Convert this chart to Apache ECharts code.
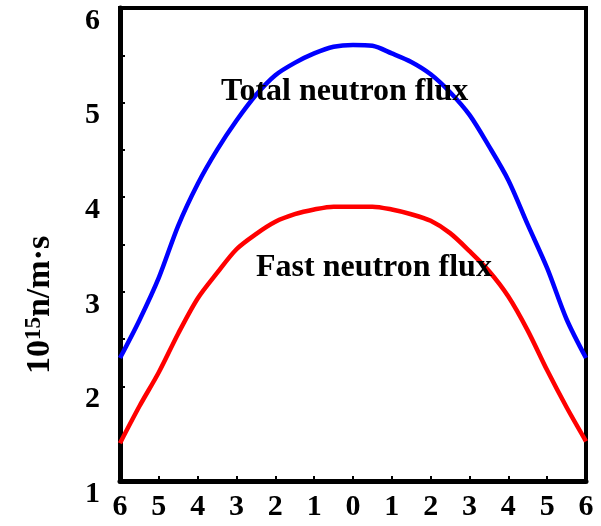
<!DOCTYPE html>
<html>
<head>
<meta charset="utf-8">
<script src="https://cdn.jsdelivr.net/npm/echarts@6/dist/echarts.min.js"></script>
<style>html,body{margin:0;padding:0;background:#fff}#c{width:601px;height:526px}</style>
</head>
<body>
<div id="c"></div>
<script>
// Position (x, symmetric about core centre)
const positions = [-6,-5.5,-5,-4.5,-4,-3.5,-3,-2.5,-2,-1.5,-1,-0.5,0,0.5,1,1.5,2,2.5,3,3.5,4,4.5,5,5.5,6];
// Total neutron flux (10^15 n/m·s)
const totalFlux = [2.30,2.70,3.15,3.70,4.14,4.50,4.81,5.08,5.29,5.42,5.52,5.59,5.61,5.60,5.52,5.43,5.30,5.11,4.87,4.54,4.18,3.71,3.25,2.71,2.30];
// Fast neutron flux (10^15 n/m·s)
const fastFlux = [1.40,1.79,2.15,2.56,2.93,3.20,3.45,3.61,3.74,3.82,3.87,3.90,3.90,3.90,3.87,3.82,3.75,3.62,3.43,3.22,2.95,2.59,2.17,1.78,1.42];
const seriesNames = ['Total neutron flux','Fast neutron flux'];
const yTicks = [1,2,3,4,5,6];

const FONT = '"Liberation Serif","Times New Roman",serif';
const chart = echarts.init(document.getElementById('c'));
chart.setOption({
  animation: false,
  backgroundColor: '#fff',
  grid: {left: 120, right: 15, top: 8, bottom: 45, show: true, borderColor: '#000', borderWidth: 4, backgroundColor: 'transparent'},
  xAxis: {
    type: 'value', min: -6, max: 6, interval: 1,
    axisLine: {show: true, onZero: false, lineStyle: {color: '#000', width: 5}},
    axisTick: {show: true, inside: true, length: 5, lineStyle: {color: '#000', width: 2}},
    axisLabel: {color: '#000', fontFamily: FONT, fontWeight: 'bold', fontSize: 30, margin: 11,
      formatter: v => String(Math.abs(v))},
    splitLine: {show: false}
  },
  yAxis: {
    type: 'value', min: yTicks[0], max: yTicks[yTicks.length-1], interval: 1,
    axisLine: {show: true, onZero: false, lineStyle: {color: '#000', width: 5}},
    axisTick: {show: true, inside: true, length: 5, lineStyle: {color: '#000', width: 2}},
    minorTick: {show: true, splitNumber: 2, length: 5, lineStyle: {color: '#000', width: 2}},
    axisLabel: {color: '#000', fontFamily: FONT, fontWeight: 'bold', fontSize: 30, margin: 20,
      verticalAlign: 'top', lineHeight: 26},
    splitLine: {show: false}
  },
  series: [
    {name: seriesNames[0], type: 'line', data: positions.map((x,i)=>[x,totalFlux[i]]),
     showSymbol: false, smooth: 0.3, lineStyle: {color: '#0000ff', width: 4.5}},
    {name: seriesNames[1], type: 'line', data: positions.map((x,i)=>[x,fastFlux[i]]),
     showSymbol: false, smooth: 0.3, lineStyle: {color: '#ff0000', width: 4.5}}
  ],
  graphic: [
    {type: 'text', left: 221, top: 76, z: 10,
     style: {text: seriesNames[0], fill: '#000', font: 'bold 32px ' + FONT}},
    {type: 'text', left: 256, top: 252, z: 10,
     style: {text: seriesNames[1], fill: '#000', font: 'bold 32px ' + FONT}},
    {type: 'text', x: 40, y: 305, rotation: Math.PI/2, z: 10,
     style: {text: '{a|10}{b|15}{a|n/m·s}', align: 'center', verticalAlign: 'middle',
       rich: {
         a: {fontFamily: FONT, fontWeight: 'bold', fontSize: 34, lineHeight: 34, verticalAlign: 'middle', fill: '#000'},
         b: {fontFamily: FONT, fontWeight: 'bold', fontSize: 23, lineHeight: 23, verticalAlign: 'top', fill: '#000'}
       }}}
  ]
});
</script>
</body>
</html>
